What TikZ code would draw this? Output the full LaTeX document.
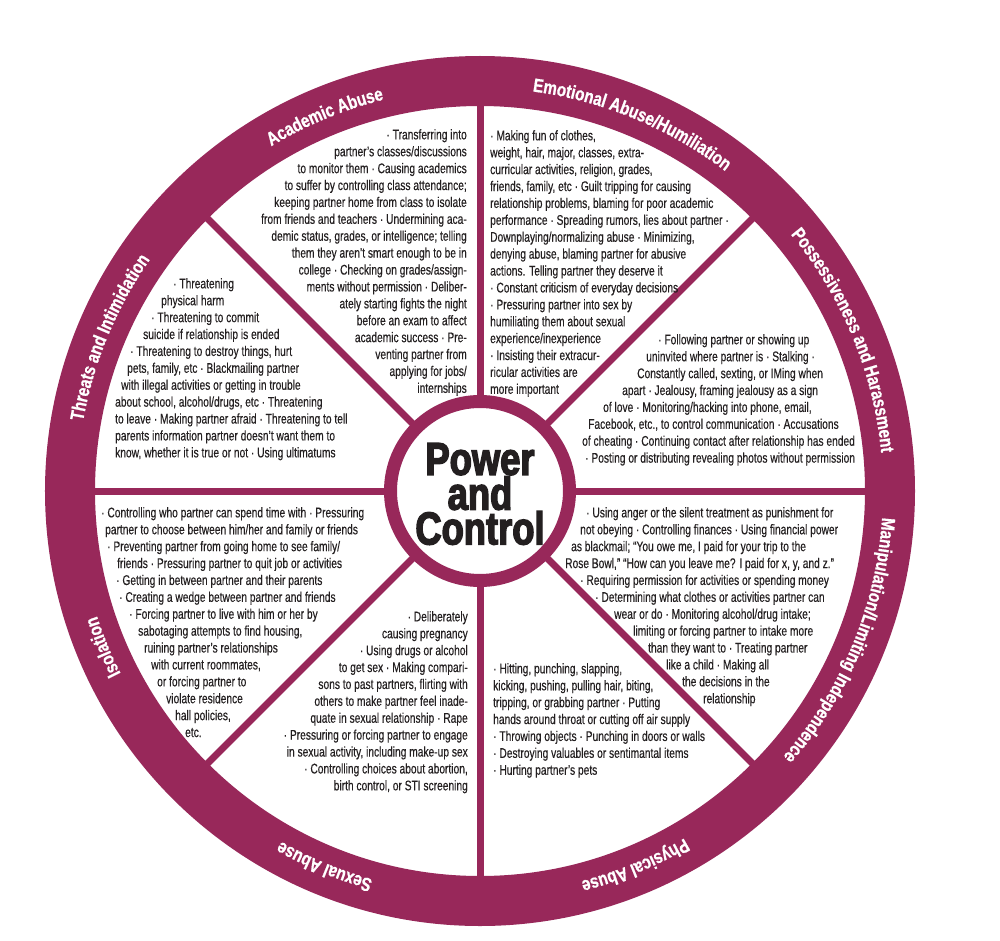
\documentclass[tikz,border=0pt]{standalone}
\usepackage{fontspec}
\usetikzlibrary{decorations.text}
\setmainfont{Liberation Sans}
\newfontfamily\bodyfont[FakeStretch=0.73,FakeBold=0.3]{Liberation Sans}
\newfontfamily\ringfont[FakeStretch=0.8,FakeBold=0.8]{Liberation Sans Bold}
\newfontfamily\titlefont[FakeStretch=0.79,FakeBold=3]{Liberation Sans Bold}
\definecolor{wheel}{RGB}{152,40,90}
\definecolor{ink}{RGB}{35,31,32}
\newcommand\lead[1]{\hspace*{#1pt}}

\begin{document}
\begin{tikzpicture}[x=1pt,y=1pt,
  spoke/.style={wheel,line width=7pt},
  blurb/.style={font=\bodyfont\fontsize{14}{16.9}\selectfont,text=ink,inner sep=0pt},
  ring label/.style={decorate,decoration={text along path,text align=center,
    text color=white,text={|\ringfont\fontsize{19}{19}\selectfont|#1}}}]
\useasboundingbox (-480,-449) rectangle (520,491);
\fill[white] (-480,-449) rectangle (520,491);
\coordinate (o) at (0,0);
% wheel
\fill[wheel,even odd rule] (o) circle[radius=435pt] circle[radius=385pt];
\foreach \a in {0,45,...,315} {
 \coordinate (s\a) at (\a:405pt);
 \draw[spoke] (o) -- (s\a);
}
\draw[wheel,line width=13pt,fill=white] (o) circle[radius=89.5pt];
\node[font=\titlefont\fontsize{46}{33.5}\selectfont,text=ink,align=center,inner sep=0pt]
 (title) at (0,-3) {Power\\and\\Control};

% rim labels
\path[ring label={Academic Abuse}] (135:403pt) arc[start angle=135,end angle=90,radius=403pt];
\path[ring label={Emotional Abuse/Humiliation}] (90:403pt) arc[start angle=90,end angle=45,radius=403pt];
\path[ring label={Possessiveness and Harassment}] (45:403pt) arc[start angle=45,end angle=0,radius=403pt];
\path[ring label={Manipulation/Limiting Independence}] (0:403pt) arc[start angle=0,end angle=-45,radius=403pt];
\path[ring label={Physical Abuse}] (-45:403pt) arc[start angle=-45,end angle=-90,radius=403pt];
\path[ring label={Sexual Abuse}] (-90:403pt) arc[start angle=-90,end angle=-135,radius=403pt];
\path[ring label={Isolation}] (-135:403pt) arc[start angle=-135,end angle=-180,radius=403pt];
\path[ring label={Threats and Intimidation}] (180:403pt) arc[start angle=180,end angle=135,radius=403pt];

% sectors
\node[blurb,align=right,anchor=north east] (academic) at (-13,362) {%
· Transferring into\\
partner’s classes/discussions\\
to monitor them · Causing academics\\
to suffer by controlling class attendance;\\
keeping partner home from class to isolate\\
from friends and teachers · Undermining aca-\\
demic status, grades, or intelligence; telling\\
them they aren’t smart enough to be in\\
college · Checking on grades/assign-\\
ments without permission · Deliber-\\
ately starting fights the night\\
before an exam to affect\\
academic success · Pre-\\
venting partner from\\
applying for jobs/\\
internships};

\node[blurb,align=left,anchor=north west] (emotional) at (10,361) {%
· Making fun of clothes,\\
weight, hair, major, classes, extra-\\
curricular activities, religion, grades,\\
friends, family, etc · Guilt tripping for causing\\
relationship problems, blaming for poor academic\\
performance · Spreading rumors, lies about partner ·\\
Downplaying/normalizing abuse · Minimizing,\\
denying abuse, blaming partner for abusive\\
actions. Telling partner they deserve it\\
· Constant criticism of everyday decisions\\
· Pressuring partner into sex by\\
humiliating them about sexual\\
experience/inexperience\\
· Insisting their extracur-\\
ricular activities are\\
more important};

\node[blurb,align=left,anchor=north west] (possessive) at (102,157) {%
\lead{76}· Following partner or showing up\\
\lead{64}uninvited where partner is · Stalking ·\\
\lead{55}Constantly called, sexting, or IMing when\\
\lead{40}apart · Jealousy, framing jealousy as a sign\\
\lead{21}of love · Monitoring/hacking into phone, email,\\
\lead{6}Facebook, etc., to control communication · Accusations\\
of cheating · Continuing contact after relationship has ended\\
\lead{3}· Posting or distributing revealing photos without permission};

\node[blurb,align=left,anchor=north west] (manipulation) at (85,-16) {%
\lead{21}· Using anger or the silent treatment as punishment for\\
\lead{15}not obeying · Controlling finances · Using financial power\\
\lead{6}as blackmail; “You owe me, I paid for your trip to the\\
Rose Bowl,” “How can you leave me? I paid for x, y, and z.”\\
\lead{15}· Requiring permission for activities or spending money\\
\lead{30}· Determining what clothes or activities partner can\\
\lead{49}wear or do · Monitoring alcohol/drug intake;\\
\lead{68}limiting or forcing partner to intake more\\
\lead{83}than they want to · Treating partner\\
\lead{101}like a child · Making all\\
\lead{117}the decisions in the\\
\lead{138}relationship};

\node[blurb,align=left,anchor=north west] (physical) at (13,-172) {%
· Hitting, punching, slapping,\\
kicking, pushing, pulling hair, biting,\\
tripping, or grabbing partner · Putting\\
hands around throat or cutting off air supply\\
· Throwing objects · Punching in doors or walls\\
· Destroying valuables or sentimantal items\\
· Hurting partner’s pets};

\node[blurb,align=right,anchor=north east] (sexual) at (-12,-120) {%
· Deliberately\\
causing pregnancy\\
· Using drugs or alcohol\\
to get sex · Making compari-\\
sons to past partners, flirting with\\
others to make partner feel inade-\\
quate in sexual relationship · Rape\\
· Pressuring or forcing partner to engage\\
in sexual activity, including make-up sex\\
· Controlling choices about abortion,\\
birth control, or STI screening};

\node[blurb,align=left,anchor=north west] (isolation) at (-379,-16) {%
· Controlling who partner can spend time with · Pressuring\\
\lead{4}partner to choose between him/her and family or friends\\
\lead{6}· Preventing partner from going home to see family/\\
\lead{16}friends · Pressuring partner to quit job or activities\\
\lead{15}· Getting in between partner and their parents\\
\lead{18}· Creating a wedge between partner and friends\\
\lead{28}· Forcing partner to live with him or her by\\
\lead{37}sabotaging attempts to find housing,\\
\lead{43}ruining partner’s relationships\\
\lead{50}with current roommates,\\
\lead{56}or forcing partner to\\
\lead{65}violate residence\\
\lead{74}hall policies,\\
\lead{84}etc.};

\node[blurb,align=left,anchor=north west] (threats) at (-365,213) {%
\lead{58}· Threatening\\
\lead{46}physical harm\\
\lead{36}· Threatening to commit\\
\lead{28}suicide if relationship is ended\\
\lead{15}· Threatening to destroy things, hurt\\
\lead{12}pets, family, etc · Blackmailing partner\\
\lead{6}with illegal activities or getting in trouble\\
about school, alcohol/drugs, etc · Threatening\\
to leave · Making partner afraid · Threatening to tell\\
parents information partner doesn’t want them to\\
know, whether it is true or not · Using ultimatums};
\end{tikzpicture}
\end{document}
